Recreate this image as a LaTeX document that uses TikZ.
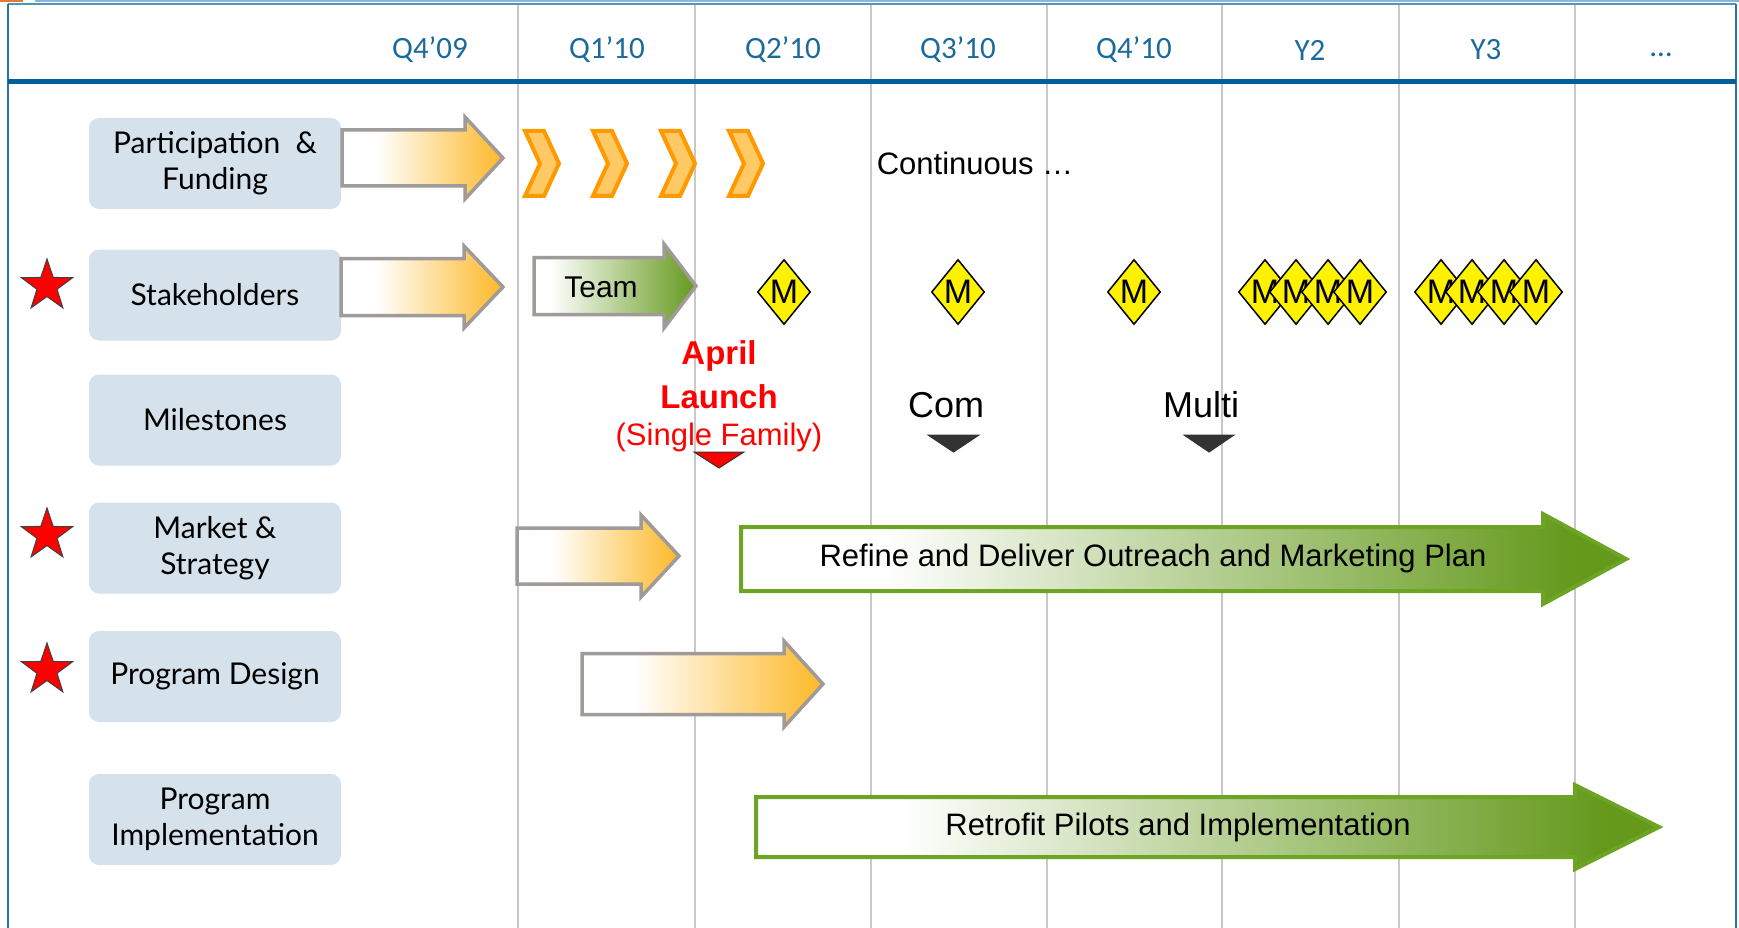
\documentclass[tikz,border=0pt]{standalone}
\usepackage{fontspec}
\setmainfont{Liberation Sans}
\newfontfamily\labfont{Lato}
\newfontfamily\hdrfont{Carlito}
\usetikzlibrary{shapes.geometric}
\definecolor{hdrblue}{HTML}{1B6A9C}
\definecolor{lineblue}{HTML}{00609C}
\definecolor{frameblue}{HTML}{2873A8}
\definecolor{frametop}{HTML}{4E97B9}
\definecolor{gridgray}{HTML}{C8C8C8}
\definecolor{boxblue}{HTML}{D5E2EC}
\definecolor{arrgray}{HTML}{A09A98}
\definecolor{orng}{HTML}{FDB827}
\definecolor{grn}{HTML}{64991C}
\definecolor{grnline}{HTML}{6EA424}
\definecolor{chevline}{HTML}{FF9900}
\definecolor{chevfill}{HTML}{FFC966}
\definecolor{mkdark}{HTML}{333333}
\definecolor{decoorange}{HTML}{E07B39}
\definecolor{decoblue}{HTML}{8FB4D9}
\pgfdeclarehorizontalshading{orgrad}{100bp}{color(0bp)=(white); color(25bp)=(white); color(36bp)=(white); color(75bp)=(orng); color(100bp)=(orng)}
\pgfdeclarehorizontalshading{grgrad}{100bp}{color(0bp)=(white); color(25bp)=(white); color(33bp)=(white); color(72bp)=(grn); color(100bp)=(grn)}
\pgfdeclarehorizontalshading{teamgrad}{100bp}{color(0bp)=(white); color(25bp)=(white); color(30bp)=(white); color(75bp)=(grn); color(100bp)=(grn)}
% #1 style, #2 left, #3 head start, #4 tip, #5 centre y, #6 half body, #7 half head
\newcommand{\blockarrow}[7]{\path[#1] (#2,#5-#6) -- (#3,#5-#6) -- (#3,#5-#7) -- (#4,#5) -- (#3,#5+#7) -- (#3,#5+#6) -- (#2,#5+#6) -- cycle;}
\newcommand{\chevronat}[1]{\path[chev] (#1+2,131) -- (#1+21,131) -- (#1+36,163.5) -- (#1+21,196) -- (#1+2,196) -- (#1+17,163.5) -- cycle;}
\tikzset{
  lbox/.style={fill=boxblue, rounded corners=10pt, minimum width=252pt, minimum height=91pt,
    font=\labfont\fontsize{30}{36}\selectfont, align=center, inner sep=0pt},
  hdr/.style={text=hdrblue, font=\hdrfont\fontsize{31}{36}\selectfont, inner sep=0pt},
  redstar/.style={star, star points=5, star point ratio=2.55, fill=red, draw=black!75,
    line width=1pt, minimum size=54pt, inner sep=0pt},
  mdia/.style={diamond, fill=yellow, draw=black, line width=1.5pt, minimum width=53pt,
    minimum height=65pt, inner sep=0pt, font=\fontsize{34}{34}\selectfont},
  orarrow/.style={shading=orgrad, draw=arrgray, line width=3.5pt},
  grarrow/.style={shading=grgrad, draw=grnline, line width=4pt},
  teamarrow/.style={shading=teamgrad, draw=arrgray, line width=3.5pt},
  chev/.style={fill=chevfill, draw=chevline, line width=4pt},
  gridline/.style={draw=gridgray, line width=2pt},
  big/.style={font=\fontsize{31}{36}\selectfont, inner sep=0pt},
  tri/.style={draw=mkdark, line width=1pt},
}
\begin{document}
\begin{tikzpicture}[x=1pt, y=-1pt, line join=miter]
\useasboundingbox (0,0) rectangle (1739,928);
% top decorations
\fill[decoorange] (0,0) rectangle (23,1.6);
\fill[decoblue] (35,0) rectangle (1739,1.6);
% grid lines
\foreach \gx in {518,695,871,1047,1222,1399,1575}{
  \draw[gridline] (\gx,5) -- (\gx,928);
}
% frame
\draw[frametop, line width=2pt] (8,4.5) -- (1736,4.5);
\draw[frameblue, line width=2pt] (8,4.5) -- (8,928);
\draw[frameblue, line width=2pt] (1736,4.5) -- (1736,928);
\draw[lineblue, line width=4.5pt] (8,81.5) -- (1736,81.5);
% header
\node[hdr] (h1) at (430,50) {Q4’09};
\node[hdr] (h2) at (607,50) {Q1’10};
\node[hdr] (h3) at (783,50) {Q2’10};
\node[hdr] (h4) at (958,50) {Q3’10};
\node[hdr] (h5) at (1134,50) {Q4’10};
\node[hdr] (h6) at (1310,50) {Y2};
\node[hdr] (h7) at (1486,50) {Y3};
\node[hdr] (h8) at (1661,55) {…};
% row labels
\node[lbox] (r1) at (215,163.5) {Participation\ \ \&\\Funding};
\node[lbox] (r2) at (215,295) {Stakeholders};
\node[lbox] (r3) at (215,420) {Milestones};
\node[lbox] (r4) at (215,548) {Market \&\\Strategy};
\node[lbox] (r5) at (215,676.5) {Program Design};
\node[lbox] (r6) at (215,819.5) {Program\\Implementation};
% stars
\node[redstar] (s2) at (47,286) {};
\node[redstar] (s4) at (47,535) {};
\node[redstar] (s5) at (47,670) {};
% arrows
\blockarrow{orarrow}{342}{465}{503}{158}{28}{41}
\blockarrow{orarrow}{341}{464}{503}{287}{28.5}{41}
\blockarrow{teamarrow}{534}{664}{696}{286}{28.5}{42}
\blockarrow{orarrow}{517}{641}{679}{556}{28}{41}
\blockarrow{orarrow}{582}{784}{823}{684}{30.5}{43}
\blockarrow{grarrow}{741}{1543}{1626}{559}{32}{45}
\blockarrow{grarrow}{756}{1575}{1659}{827}{30}{42}
% chevrons
\chevronat{523}
\chevronat{591}
\chevronat{659}
\chevronat{727}
% milestone diamonds
\node[mdia] (m1) at (784,292) {M};
\node[mdia] (m2) at (958,292) {M};
\node[mdia] (m3) at (1134,292) {M};
\node[mdia] (m4) at (1265,292) {M};
\node[mdia] (m5) at (1296,292) {M};
\node[mdia] (m6) at (1328,292) {M};
\node[mdia] (m7) at (1360,292) {M};
\node[mdia] (m8) at (1441,292) {M};
\node[mdia] (m9) at (1472,292) {M};
\node[mdia] (m10) at (1504,292) {M};
\node[mdia] (m11) at (1536,292) {M};
% texts
\node[big] (cont) at (975,163) {Continuous …};
\node[big, font=\fontsize{30}{36}\selectfont] (team) at (601,287) {Team};
\node[inner sep=0pt, text=red, font=\bfseries\fontsize{33}{36}\selectfont] (april) at (719,356) {April};
\node[inner sep=0pt, text=red, font=\bfseries\fontsize{33}{36}\selectfont] (launch) at (719,397) {Launch};
\node[inner sep=0pt, text=red, font=\fontsize{31}{36}\selectfont] (single) at (719,437) {(Single Family)};
\node[inner sep=0pt, font=\fontsize{36}{40}\selectfont] (com) at (946,405) {Com};
\node[inner sep=0pt, font=\fontsize{36}{40}\selectfont] (multi) at (1201,405) {Multi};
% milestone markers
\path[tri, fill=red] (694,452) -- (744,452) -- (719,468) -- cycle;
\path[tri, fill=mkdark] (928,435) -- (979,435) -- (953.5,452) -- cycle;
\path[tri, fill=mkdark] (1184,435) -- (1234,435) -- (1209,452) -- cycle;
\node[big] (refine) at (1153,558) {Refine and Deliver Outreach and Marketing Plan};
\node[big] (retro) at (1178,827) {Retrofit Pilots and Implementation};
\end{tikzpicture}
\end{document}
